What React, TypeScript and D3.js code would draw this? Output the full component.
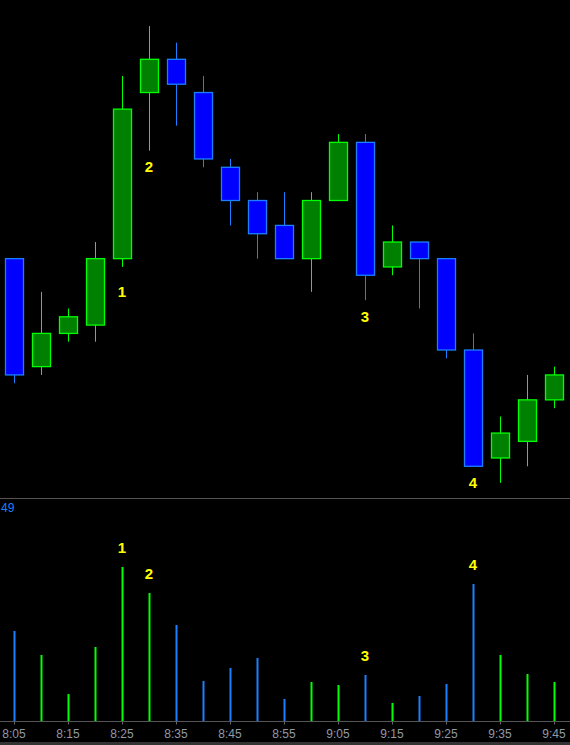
import { useEffect, useRef } from 'react'
import * as d3 from 'd3'

// bar times, 5 minute bars
const TIMES = [
  '8:05', '8:10', '8:15', '8:20', '8:25', '8:30', '8:35', '8:40', '8:45', '8:50', '8:55',
  '9:00', '9:05', '9:10', '9:15', '9:20', '9:25', '9:30', '9:35', '9:40', '9:45',
]

// prices in ticks
const OPEN = [76, 63, 67, 68, 76, 96, 100, 96, 87, 83, 80, 76, 83, 90, 75, 78, 76, 65, 52, 54, 59]
const HIGH = [76, 72, 70, 78, 98, 104, 102, 98, 88, 84, 84, 84, 91, 91, 80, 78, 76, 67, 57, 62, 63]
const LOW = [61, 62, 66, 66, 75, 89, 92, 87, 80, 76, 76, 72, 83, 71, 74, 70, 64, 51, 49, 51, 58]
const CLOSE = [62, 67, 69, 76, 94, 100, 97, 88, 83, 79, 76, 83, 90, 74, 78, 76, 65, 51, 55, 59, 62]

const VOLUME = [900, 660, 270, 740, 1540, 1280, 960, 400, 530, 630, 220, 390, 360, 460, 180, 250, 370, 1370, 660, 470, 390]

const AXIS_LABELS = ['8:05', '8:15', '8:25', '8:35', '8:45', '8:55', '9:05', '9:15', '9:25', '9:35', '9:45']

// numbered callouts: bar index -> label
const MARKS = [
  { idx: 4, label: '1' },
  { idx: 5, label: '2' },
  { idx: 13, label: '3' },
  { idx: 17, label: '4' },
]
// the "1" callout sits a bit lower than the others in the price pane
const PRICE_NUDGE: Record<string, number> = { '1': 9 }

const UP_FILL = '#008000'
const UP_LINE = '#00ff00'
const DOWN_FILL = '#0000ff'
const DOWN_LINE = '#1a80ff'

const W = 570
const H = 745

const App = () => {
  const svgRef = useRef<SVGSVGElement>(null)

  useEffect(() => {
    if (!svgRef.current) return
    const svg = d3.select(svgRef.current)
    svg.selectAll('*').remove()

    const font = '"Liberation Sans", Arial, sans-serif'

    svg.append('rect').attr('width', W).attr('height', H).attr('fill', '#000')

    const x = d3.scalePoint<string>().domain(TIMES).range([14, 554])
    const y = d3.scaleLinear().domain([51, 100]).range([466.3, 59.3])
    const v = d3.scaleLinear().domain([0, 1540]).range([721, 567])

    const data = TIMES.map((t, i) => ({
      t, o: OPEN[i], h: HIGH[i], l: LOW[i], c: CLOSE[i], vol: VOLUME[i], up: CLOSE[i] >= OPEN[i],
    }))

    // price pane
    const candles = svg.append('g')
    const cg = candles.selectAll('g').data(data).enter().append('g')

    cg.append('line')
      .attr('x1', d => Math.round(x(d.t)!) + 0.5)
      .attr('x2', d => Math.round(x(d.t)!) + 0.5)
      .attr('y1', d => y(d.h))
      .attr('y2', d => y(d.l))
      .attr('stroke', d => (d.up ? UP_LINE : DOWN_LINE))
      .attr('stroke-width', 1)

    cg.append('rect')
      .attr('x', d => Math.round(x(d.t)!) - 8.5)
      .attr('width', 18)
      .attr('y', d => y(Math.max(d.o, d.c)))
      .attr('height', d => Math.abs(y(d.o) - y(d.c)))
      .attr('fill', d => (d.up ? UP_FILL : DOWN_FILL))
      .attr('stroke', d => (d.up ? UP_LINE : DOWN_LINE))
      .attr('stroke-width', 1.3)

    // pane separator
    svg.append('line')
      .attr('x1', 0).attr('x2', W).attr('y1', 498.5).attr('y2', 498.5)
      .attr('stroke', '#555').attr('stroke-width', 1)

    svg.append('text')
      .attr('x', 1).attr('y', 512)
      .attr('fill', DOWN_LINE)
      .attr('font-family', font)
      .attr('font-size', 12)
      .text('49')

    // volume pane
    svg.append('g').selectAll('line').data(data).enter().append('line')
      .attr('x1', d => Math.round(x(d.t)!) + 0.5)
      .attr('x2', d => Math.round(x(d.t)!) + 0.5)
      .attr('y1', v(0))
      .attr('y2', d => v(d.vol))
      .attr('stroke', d => (d.up ? UP_LINE : DOWN_LINE))
      .attr('stroke-width', 2)

    // time axis
    const axisY = 721.5
    svg.append('line')
      .attr('x1', 0).attr('x2', W).attr('y1', axisY).attr('y2', axisY)
      .attr('stroke', '#555').attr('stroke-width', 1)

    const ax = svg.append('g')
    ax.selectAll('line').data(AXIS_LABELS).enter().append('line')
      .attr('x1', d => Math.round(x(d)!) + 0.5)
      .attr('x2', d => Math.round(x(d)!) + 0.5)
      .attr('y1', axisY).attr('y2', axisY + 3)
      .attr('stroke', '#666')
    ax.selectAll('text').data(AXIS_LABELS).enter().append('text')
      .attr('x', d => x(d)!)
      .attr('y', 738)
      .attr('text-anchor', 'middle')
      .attr('fill', '#8f9aa6')
      .attr('font-family', font)
      .attr('font-size', 12)
      .text(d => d)

    svg.append('rect').attr('x', 0).attr('y', 742).attr('width', W).attr('height', 3).attr('fill', '#333')

    // callouts
    const byIdx = (i: number) => data[i]
    svg.append('g').selectAll('text').data(MARKS).enter().append('text')
      .attr('x', d => x(byIdx(d.idx).t)!)
      .attr('y', d => y(byIdx(d.idx).l) + 21.5 + (PRICE_NUDGE[d.label] || 0))
      .attr('text-anchor', 'middle')
      .attr('fill', '#ffff00')
      .attr('font-family', font)
      .attr('font-weight', 'bold')
      .attr('font-size', 15)
      .text(d => d.label)

    svg.append('g').selectAll('text').data(MARKS).enter().append('text')
      .attr('x', d => x(byIdx(d.idx).t)!)
      .attr('y', d => v(byIdx(d.idx).vol) - 14)
      .attr('text-anchor', 'middle')
      .attr('fill', '#ffff00')
      .attr('font-family', font)
      .attr('font-weight', 'bold')
      .attr('font-size', 15)
      .text(d => d.label)
  }, [])

  return (
    <div style={{ position: 'fixed', left: 0, top: 0, width: W, height: H, background: '#000' }}>
      <svg ref={svgRef} width={W} height={H} style={{ display: 'block' }}></svg>
    </div>
  )
}

export default App
